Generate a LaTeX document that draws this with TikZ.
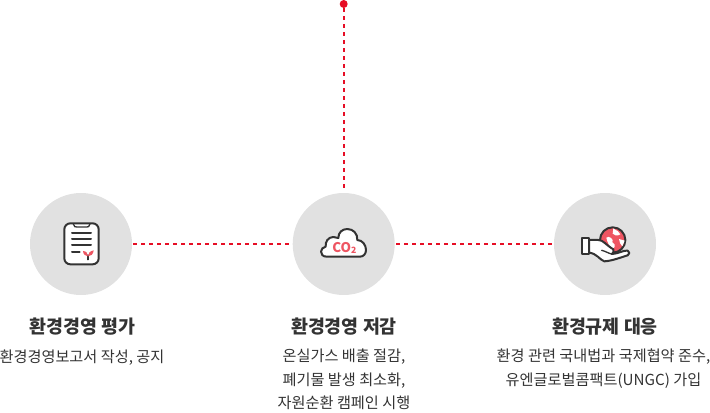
\documentclass[tikz,border=0pt]{standalone}
\usepackage{fontspec}
\setmainfont{Noto Sans CJK KR}
\usetikzlibrary{positioning}
\definecolor{dotred}{HTML}{E60E25}
\definecolor{iconred}{HTML}{EE5562}
\definecolor{iconink}{HTML}{333333}
\definecolor{discgray}{HTML}{E1E1E1}
\definecolor{textgray}{HTML}{333333}
\tikzset{
  disc/.style={circle, fill=discgray, minimum size=76.5pt, inner sep=0pt, outer sep=1pt},
  link/.style={dotred, line width=1.5pt, dash pattern=on 3pt off 3pt},
  heading/.style={font=\fontsize{13.8pt}{15pt}\bfseries\selectfont, text=textgray, inner sep=0pt},
  detail/.style={font=\fontsize{11.4pt}{17.6pt}\selectfont, text=textgray, align=center, inner sep=0pt},
  iconline/.style={iconink, line width=1.5pt, line join=round, line cap=round},
}
\begin{document}
\begin{tikzpicture}[x=0.75pt, y=-0.75pt]
\useasboundingbox (0,0) rectangle (710,413);

% Draw discs
\node[disc] (report) at (81,244) {};
\node[disc] (cut) at (343.7,244) {};
\node[disc] (rule) at (605,244) {};
\node[circle, fill=dotred, minimum size=6pt, inner sep=0pt] (top) at (343.7,4) {};

% Draw links
\draw[link] (top) -- (cut);
\draw[link] (report) -- (cut);
\draw[link] (cut) -- (rule);

% Report icon
\begin{scope}[shift={(20,185)}, scale=1/3]
\draw[iconline, fill=white, rounded corners=4.5pt] (133,115) rectangle (236,238);
\draw[iconline, line width=1pt] (160,117) .. controls (163,126) and (165,126) .. (170,126) -- (200,126) .. controls (205,126) and (207,126) .. (210,117);
\foreach \y in {144,162,181} \draw[iconline] (156,\y) -- (213,\y);
\draw[iconline] (156,200) -- (179,200);
\draw[iconline, line width=1pt] (204,210) -- (204,224);
\fill[iconred] (189,198) .. controls (199,198) and (204,206) .. (204,214) .. controls (204,206) and (209,198) .. (221,196) .. controls (220,208) and (212,214) .. (204,214) .. controls (196,214) and (190,208) .. (189,198) -- cycle;
\end{scope}

% Cloud icon
\begin{scope}[shift={(285,185)}, scale=1/3]
\draw[iconline, fill=white] (125,215) .. controls (113,215) and (108,207) .. (108,200) .. controls (108,192) and (115,186) .. (122,185) .. controls (120,170) and (130,156) .. (145,156) .. controls (150,156) and (155,157) .. (160,159) .. controls (160,142) and (172,132) .. (187,132) .. controls (205,132) and (218,146) .. (217,165) .. controls (232,165) and (243,180) .. (243,195) .. controls (243,207) and (235,215) .. (225,215) -- cycle;
\node[font=\fontsize{10pt}{10pt}\bfseries\selectfont, text=iconred, inner sep=0pt] (co) at (178,188) {CO\raisebox{-0.5pt}{\fontsize{6.5pt}{6.5pt}\selectfont 2}};
\end{scope}

% Hand icon
\begin{scope}[shift={(545,185)}, scale=1/3]
\draw[iconline, fill=iconred] (203,165) circle (38);
\fill[white] (205,130) .. controls (214,138) and (224,138) .. (226,148) .. controls (216,154) and (208,152) .. (203,146) -- cycle;
\fill[white] (184,158) .. controls (192,150) and (208,164) .. (202,172) .. controls (216,180) and (208,192) .. (198,194) .. controls (194,180) and (186,172) .. (184,158) -- cycle;
\fill[white] (222,162) -- (239,167) -- (232,184) .. controls (226,180) and (223,170) .. (222,162) -- cycle;
\draw[iconline, fill=white] (132,165) -- (160,165) .. controls (175,165) and (180,178) .. (205,193) .. controls (208,200) and (205,205) .. (200,207) .. controls (225,205) and (235,195) .. (248,197) .. controls (255,200) and (255,208) .. (248,211) .. controls (225,218) and (200,228) .. (178,229) .. controls (165,225) and (155,205) .. (132,203) -- cycle;
\draw[iconline, line width=1pt] (170,196) .. controls (180,198) and (190,205) .. (200,207);
\draw[iconline, fill=white] (110,160) rectangle (132,208);
\end{scope}

% Headings and details
\node[heading] (reporthead) at (82.5,326.5) {환경경영 평가};
\node[heading] (cuthead) at (344,326.5) {환경경영 저감};
\node[heading] (rulehead) at (605,326.5) {환경규제 대응};
\node[detail] (reporttext) at (82,358) {환경경영보고서 작성, 공지};
\node[detail, anchor=north] (cuttext) at (344,349) {온실가스 배출 절감,\\폐기물 발생 최소화,\\자원순환 캠페인 시행};
\node[detail, anchor=north] (ruletext) at (603.5,349) {환경 관련 국내법과 국제협약 준수,\\유엔글로벌콤팩트(UNGC) 가입};
\end{tikzpicture}
\end{document}
